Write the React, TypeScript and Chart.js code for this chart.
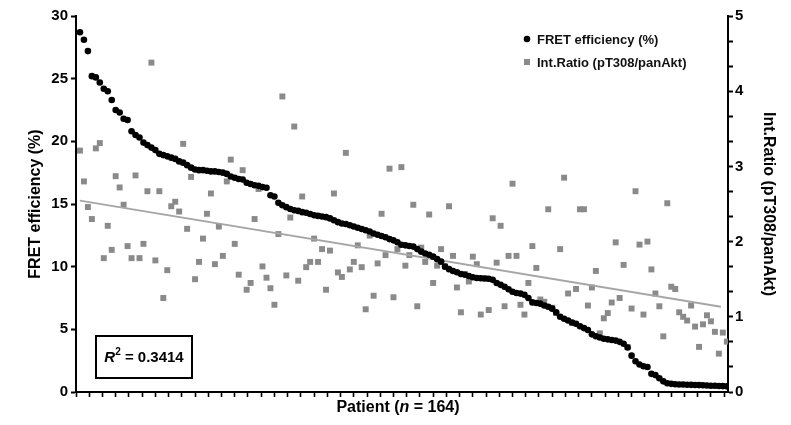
import React, { useEffect, useRef } from "react";
import { Chart, registerables } from "chart.js";

Chart.register(...registerables);

// Patient rank (1..164) along the x axis
const patientCount = 164;
const patients: number[] = Array.from({ length: patientCount }, (_, i) => i + 1);

// FRET efficiency (%), sorted descending (left axis)
const fretEfficiency: number[] = [
  28.7, 28.1, 27.2, 25.2, 25.1, 24.7, 24.2, 24.0, 23.3, 22.5,
  22.3, 21.8, 21.7, 20.8, 20.5, 20.3, 19.9, 19.7, 19.5, 19.3,
  19.0, 18.9, 18.8, 18.7, 18.6, 18.4, 18.3, 18.1, 17.9, 17.75,
  17.7, 17.7, 17.65, 17.6, 17.6, 17.55, 17.5, 17.4, 17.2, 17.1,
  17.0, 16.95, 16.7, 16.6, 16.5, 16.45, 16.35, 16.3, 15.7, 15.6,
  15.1, 14.9, 14.75, 14.6, 14.5, 14.45, 14.35, 14.3, 14.2, 14.1,
  14.05, 14.0, 13.95, 13.85, 13.7, 13.55, 13.45, 13.4, 13.3, 13.2,
  13.1, 13.0, 12.9, 12.8, 12.65, 12.55, 12.45, 12.35, 12.2, 12.1,
  11.95, 11.75, 11.7, 11.65, 11.6, 11.4, 11.2, 11.05, 10.95, 10.8,
  10.6, 10.4, 10.0, 9.8, 9.65, 9.55, 9.42, 9.35, 9.25, 9.15,
  9.1, 9.07, 9.05, 9.03, 8.95, 8.7, 8.55, 8.4, 8.2, 8.0,
  7.9, 7.85, 7.75, 7.5, 7.15, 7.1, 7.05, 6.9, 6.8, 6.65,
  6.35, 6.0, 5.85, 5.7, 5.55, 5.45, 5.25, 5.1, 4.95, 4.6,
  4.45, 4.35, 4.25, 4.2, 4.15, 4.1, 4.0, 3.85, 3.55, 2.9,
  2.45, 2.2, 2.05, 2.0, 1.45, 1.35, 1.1, 0.85, 0.7, 0.65,
  0.62, 0.6, 0.6, 0.58, 0.57, 0.56, 0.55, 0.54, 0.52, 0.5,
  0.5, 0.48, 0.47, 0.45,
];

// Int.Ratio (pT308/panAkt) per patient (right axis)
const intRatio: number[] = [
  3.21, 2.80, 2.46, 2.30, 3.24, 3.31, 1.78, 2.21, 1.89, 2.87,
  2.72, 2.49, 1.94, 1.78, 2.88, 1.78, 1.97, 2.67, 4.38, 1.75,
  2.67, 1.25, 1.62, 2.47, 2.53, 2.40, 3.30, 2.17, 2.86, 1.50,
  1.73, 2.04, 2.37, 2.64, 1.70, 2.20, 1.81, 2.80, 3.09, 1.97,
  1.56, 2.95, 1.36, 1.45, 2.30, 2.70, 1.67, 1.52, 1.38, 1.16,
  2.10, 3.93, 1.55, 2.32, 3.53, 1.48, 2.60, 1.66, 1.73, 2.04,
  1.73, 1.90, 1.36, 1.88, 2.64, 1.59, 1.53, 3.18, 1.63, 1.73,
  1.95, 1.66, 1.10, 2.08, 1.28, 1.71, 2.37, 1.82, 2.97, 1.26,
  1.90, 2.99, 1.68, 1.82, 2.49, 1.14, 1.92, 1.73, 2.36, 1.45,
  1.68, 1.90, 1.67, 2.47, 1.81, 1.39, 1.06, 1.57, 1.47, 1.80,
  1.70, 1.03, 1.51, 1.09, 2.31, 1.72, 2.21, 1.14, 1.81, 2.77,
  1.81, 1.16, 1.03, 1.45, 1.94, 1.65, 1.23, 1.20, 2.43, 1.12,
  1.05, 1.90, 2.85, 1.31, 0.92, 1.37, 2.43, 2.43, 1.15, 1.39,
  1.61, 0.78, 0.98, 1.05, 1.19, 1.99, 1.25, 1.69, 0.60, 1.11,
  2.67, 1.96, 1.03, 2.00, 1.63, 1.31, 1.14, 0.74, 2.51, 1.40,
  1.37, 1.06, 1.00, 0.95, 1.15, 0.87, 0.60, 0.90, 1.02, 0.94,
  0.80, 0.51, 0.79, 0.67,
];

// Linear trend of Int.Ratio (endpoints on the patient axis)
const trendX: number[] = [1, 162.5];
const trendY: number[] = [2.545, 1.135];

// Axis ranges / tick values
const leftTicks: number[] = [0, 5, 10, 15, 20, 25, 30];
const rightTicksMajor: number[] = [0, 1, 2, 3, 4, 5];
const rightMinorPerUnit = 3;
const xMajorStep = 10;
const xMinorPerMajor = 3;
const xMax = 164.3;

const rSquaredText = "0.3414";
const xTitleParts = ["Patient (", "n", " = 164)"];
const legendLabels = ["FRET efficiency (%)", "Int.Ratio (pT308/panAkt)"];

const FONT = "'Liberation Sans', Arial, Helvetica, sans-serif";
const SQUARE_COLOR = "#8a8a8a";
const LINE_COLOR = "#a6a6a6";

const overlayPlugin = {
  id: "overlay",
  afterDraw(chart: any) {
    const { ctx, chartArea: a } = chart;
    ctx.save();
    ctx.fillStyle = "#000";
    ctx.strokeStyle = "#000";
    ctx.textBaseline = "middle";

    // X axis title with italic n
    const fonts = [`bold 16px ${FONT}`, `italic bold 16px ${FONT}`, `bold 16px ${FONT}`];
    let total = 0;
    const widths = xTitleParts.map((t, i) => {
      ctx.font = fonts[i];
      const w = ctx.measureText(t).width;
      total += w;
      return w;
    });
    let x = (a.left + a.right) / 2 - 4 - total / 2;
    const ty = a.bottom + 16;
    ctx.textAlign = "left";
    xTitleParts.forEach((t, i) => {
      ctx.font = fonts[i];
      ctx.fillText(t, x, ty);
      x += widths[i];
    });

    // R^2 box
    const bx = a.left + 20;
    const by = a.bottom - 56;
    const bw = 96;
    const bh = 42;
    ctx.lineWidth = 2;
    ctx.strokeRect(bx, by, bw, bh);
    const cy = by + bh / 2 + 1;
    ctx.font = `italic bold 15px ${FONT}`;
    const rW = ctx.measureText("R").width;
    ctx.font = `bold 10px ${FONT}`;
    const sW = ctx.measureText("2").width;
    ctx.font = `bold 15px ${FONT}`;
    const restW = ctx.measureText(" = " + rSquaredText).width;
    let rx = bx + bw / 2 - (rW + sW + restW) / 2;
    ctx.font = `italic bold 15px ${FONT}`;
    ctx.fillText("R", rx, cy);
    rx += rW;
    ctx.font = `bold 10px ${FONT}`;
    ctx.fillText("2", rx, cy - 6);
    rx += sW;
    ctx.font = `bold 15px ${FONT}`;
    ctx.fillText(" = " + rSquaredText, rx, cy);

    // Legend
    const lx = a.right - 201;
    const ly1 = a.top + 23;
    const ly2 = a.top + 46;
    ctx.beginPath();
    ctx.arc(lx, ly1, 3.3, 0, Math.PI * 2);
    ctx.fillStyle = "#000";
    ctx.fill();
    ctx.fillStyle = SQUARE_COLOR;
    ctx.fillRect(lx - 3, ly2 - 3, 6, 6);
    ctx.fillStyle = "#111";
    ctx.font = `bold 13px ${FONT}`;
    ctx.fillText(legendLabels[0], lx + 10, ly1 + 1);
    ctx.fillText(legendLabels[1], lx + 10, ly2 + 1);

    ctx.restore();
  },
};

export default function App() {
  const canvasRef = useRef<HTMLCanvasElement | null>(null);

  useEffect(() => {
    if (!canvasRef.current) return;

    const fretData = patients.map((p, i) => ({ x: p, y: fretEfficiency[i] }));
    const ratioData = patients.map((p, i) => ({ x: p, y: intRatio[i] }));
    const trendData = trendX.map((xv, i) => ({ x: xv, y: trendY[i] }));

    const xTickValues: number[] = [];
    const xStep = xMajorStep / xMinorPerMajor;
    for (let k = 0; k * xStep <= xMax + 1e-6; k++) xTickValues.push(k * xStep);

    const rightTickValues: number[] = [];
    const maxR = rightTicksMajor[rightTicksMajor.length - 1];
    for (let k = 0; k <= maxR * rightMinorPerUnit; k++) rightTickValues.push(k / rightMinorPerUnit);

    const chart = new Chart(canvasRef.current, {
      type: "scatter",
      data: {
        datasets: [
          {
            label: legendLabels[0],
            data: fretData,
            yAxisID: "y",
            pointStyle: "circle",
            pointRadius: 3.3,
            backgroundColor: "#000",
            borderColor: "#000",
            borderWidth: 0,
          },
          {
            type: "line",
            label: "trend",
            data: trendData,
            yAxisID: "y1",
            borderColor: LINE_COLOR,
            borderWidth: 2,
            pointRadius: 0,
            fill: false,
          } as any,
          {
            label: legendLabels[1],
            data: ratioData,
            yAxisID: "y1",
            pointStyle: "rect",
            pointRadius: 4.2,
            backgroundColor: SQUARE_COLOR,
            borderColor: SQUARE_COLOR,
            borderWidth: 0,
          },
        ],
      },
      options: {
        animation: false,
        responsive: true,
        maintainAspectRatio: false,
        layout: { padding: { top: 16, left: 0, right: 0, bottom: 0 } },
        plugins: {
          legend: { display: false },
          tooltip: { enabled: false },
        },
        scales: {
          x: {
            type: "linear",
            min: 0,
            max: xMax,
            afterBuildTicks: (s: any) => {
              s.ticks = xTickValues.map((v) => ({ value: v }));
            },
            afterFit: (s: any) => {
              s.height = 33;
            },
            ticks: { display: false, autoSkip: false },
            grid: {
              drawOnChartArea: false,
              drawTicks: true,
              tickLength: 5,
              tickColor: "#000",
              tickWidth: 1.6,
            },
            border: { display: true, color: "#000", width: 2 },
          },
          y: {
            type: "linear",
            position: "left",
            min: 0,
            max: 30,
            afterBuildTicks: (s: any) => {
              s.ticks = leftTicks.map((v) => ({ value: v }));
            },
            afterFit: (s: any) => {
              s.width = 76;
            },
            ticks: {
              autoSkip: false,
              color: "#000",
              padding: 3,
              font: { family: FONT, size: 15, weight: "bold" },
            },
            grid: {
              drawOnChartArea: false,
              drawTicks: true,
              tickLength: 5,
              tickColor: "#000",
              tickWidth: 2,
            },
            border: { display: true, color: "#000", width: 2 },
            title: {
              display: true,
              text: "FRET efficiency (%)",
              color: "#000",
              font: { family: FONT, size: 16, weight: "bold" },
              padding: { top: 26, bottom: 0 },
            },
          },
          y1: {
            type: "linear",
            position: "right",
            min: 0,
            max: 5,
            afterBuildTicks: (s: any) => {
              s.ticks = rightTickValues.map((v) => ({ value: v }));
            },
            afterFit: (s: any) => {
              s.width = 63;
            },
            ticks: {
              autoSkip: false,
              color: "#000",
              padding: 2,
              font: { family: FONT, size: 15, weight: "bold" },
              callback: (v: any) => {
                const n = Number(v);
                return Math.abs(n - Math.round(n)) < 1e-6 && rightTicksMajor.includes(Math.round(n))
                  ? String(Math.round(n))
                  : "";
              },
            },
            grid: {
              drawOnChartArea: false,
              drawTicks: true,
              tickLength: 5,
              tickColor: "#000",
              tickWidth: 2,
            },
            border: { display: true, color: "#000", width: 2 },
            title: {
              display: true,
              text: "Int.Ratio (pT308/panAkt)",
              color: "#000",
              font: { family: FONT, size: 16, weight: "bold" },
              padding: { top: 13, bottom: 0 },
            },
          },
        },
      } as any,
      plugins: [overlayPlugin],
    });

    return () => chart.destroy();
  }, []);

  return (
    <div style={{ position: "fixed", left: 0, top: 0, width: 791, height: 425, background: "#fff" }}>
      <canvas ref={canvasRef} />
    </div>
  );
}
